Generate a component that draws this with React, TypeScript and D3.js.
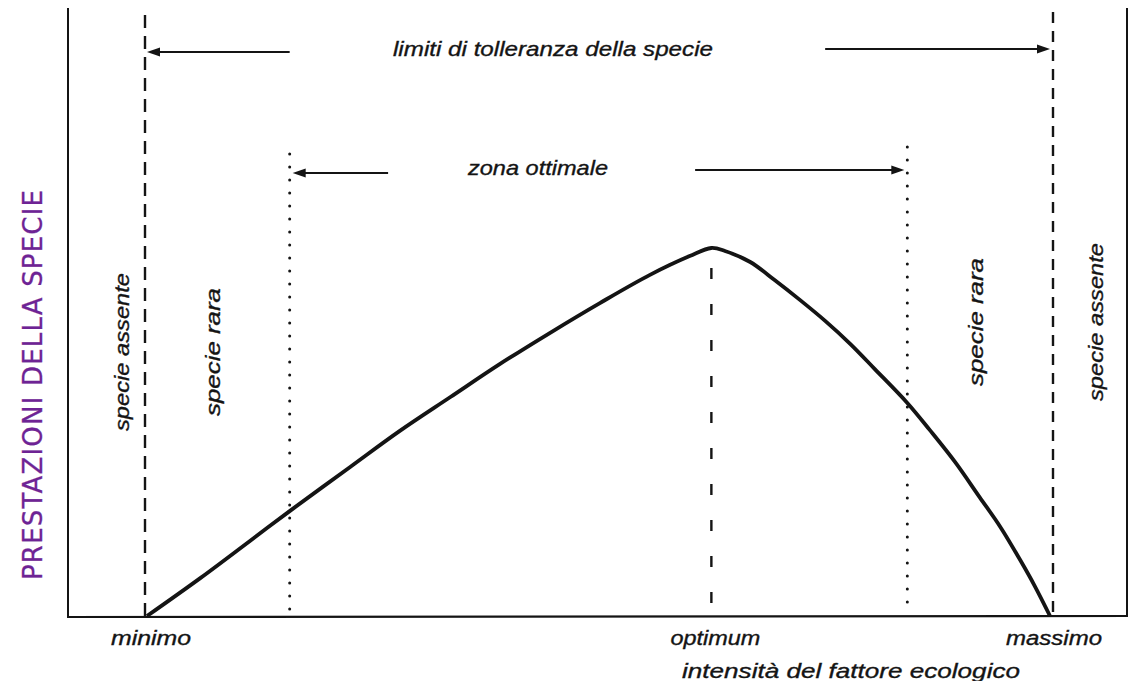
import React from "react";
import * as d3 from "d3";

// x: ecological factor intensity (0 = minimo, 100 = massimo), y: species performance (peak = 100)
const boundaryNames = ["minimo", "optimum", "massimo"];
const boundaryValues = [0, 62.5, 100];
const optimalZone = [15.8, 84.2];

const curveX = [
  0, 5.9, 11.4, 15.8, 22.5, 28.0, 33.6, 39.1, 44.6, 50.2, 55.7, 60.1, 62.5,
  64.0, 66.8, 69.5, 72.3, 75.1, 77.9, 80.6, 84.2, 86.7, 89.5, 92.2, 94.5, 96.7, 98.3, 100,
];
const curveY = [
  0, 10.3, 20.4, 28.5, 40.5, 50.3, 59.5, 68.5, 76.9, 85.1, 92.7, 97.8, 100,
  99.2, 96.2, 91.3, 85.9, 80.2, 73.9, 67.1, 57.9, 50.5, 41.8, 32.3, 24.2, 15.2, 8.2, 0,
];

const zoneLabels = ["specie assente", "specie rara", "specie rara", "specie assente"];
const zoneLabelX = [-2.8, 7.3, 91.7, 105];

const ink = "#141414";
const purple = "#6e2394";
const font = "'Liberation Sans', Arial, sans-serif";

export default function App() {
  const width = 1134;
  const height = 681;

  const x = d3.scaleLinear().domain([0, 100]).range([147, 1050]);
  const y = d3.scaleLinear().domain([0, 100]).range([616, 248]);

  const points: [number, number][] = curveX.map((v, i) => [x(v), y(curveY[i])]);
  const line = d3.line().curve(d3.curveCatmullRom.alpha(0.5))(points) || "";

  const axisLeft = 68;
  const axisRight = 1127;
  const baseY = 616;

  const arrowHead = (tipX: number, tipY: number, dir: number) =>
    `M${tipX},${tipY} L${tipX - dir * 13},${tipY - 4.5} L${tipX - dir * 13},${tipY + 4.5} Z`;

  const topY = 51;
  const zoneY = 172;

  const [minX, optX, maxX] = boundaryValues.map((v) => x(v));
  const [zl, zr] = optimalZone.map((v) => x(v));

  const textProps = {
    fontStyle: "italic",
    fill: ink,
    stroke: ink,
    strokeWidth: 0.35,
    lengthAdjust: "spacingAndGlyphs",
  } as const;

  const boundaryWidths = [80, 90, 96];

  return (
    <svg
      width={width}
      height={height}
      style={{ position: "absolute", left: 0, top: 0, background: "#fff" }}
      fontFamily={font}
    >
      {/* frame */}
      <line x1={axisLeft} y1={8} x2={axisLeft} y2={baseY + 2} stroke={ink} strokeWidth={2} />
      <line x1={axisRight} y1={8} x2={axisRight} y2={baseY} stroke={ink} strokeWidth={2} />
      <line x1={axisLeft - 1} y1={baseY + 1} x2={axisRight + 1} y2={baseY} stroke={ink} strokeWidth={2.2} />

      {/* tolerance limits */}
      <line x1={minX - 2} y1={15} x2={minX - 2} y2={baseY} stroke={ink} strokeWidth={2.4} strokeDasharray="13,8" />
      <line x1={maxX + 3} y1={12} x2={maxX + 3} y2={baseY} stroke={ink} strokeWidth={2.4} strokeDasharray="11,8" />
      <line x1={optX} y1={268} x2={optX} y2={baseY - 4} stroke={ink} strokeWidth={2.4} strokeDasharray="11,25" />

      {/* optimal zone */}
      {[zl, zr].map((v, i) => (
        <line
          key={i}
          x1={v}
          y1={i === 0 ? 154 : 147}
          x2={v}
          y2={baseY - 4}
          stroke={ink}
          strokeWidth={3}
          strokeLinecap="round"
          strokeDasharray="0,13"
        />
      ))}

      {/* arrows */}
      <line x1={x(15.8)} y1={topY + 1} x2={minX + 8} y2={topY + 1} stroke={ink} strokeWidth={2} />
      <path d={arrowHead(minX, topY + 1, -1)} fill={ink} />
      <line x1={x(75.1)} y1={topY - 2} x2={maxX - 8} y2={topY - 2} stroke={ink} strokeWidth={2} />
      <path d={arrowHead(maxX, topY - 2, 1)} fill={ink} />
      <text x={393} y={topY + 5} fontSize={21} textLength={320} {...textProps}>
        limiti di tolleranza della specie
      </text>

      <line x1={x(26.7)} y1={zoneY + 1} x2={zl + 10} y2={zoneY + 1} stroke={ink} strokeWidth={2} />
      <path d={arrowHead(zl + 3, zoneY + 1, -1)} fill={ink} />
      <line x1={x(60.7)} y1={zoneY - 2} x2={zr - 10} y2={zoneY - 2} stroke={ink} strokeWidth={2} />
      <path d={arrowHead(zr - 3, zoneY - 2, 1)} fill={ink} />
      <text x={468} y={zoneY + 3} fontSize={21} textLength={140} {...textProps}>
        zona ottimale
      </text>

      {/* performance curve */}
      <path d={line} fill="none" stroke={ink} strokeWidth={3.8} strokeLinejoin="round" />

      {/* zone labels */}
      {zoneLabels.map((t, i) => {
        const cx = x(zoneLabelX[i]);
        const cy = i < 2 ? 352 : 322;
        const len = t.length > 11 ? 158 : 128;
        return (
          <text
            key={i}
            transform={`translate(${cx},${cy}) rotate(-90)`}
            x={-len / 2}
            dominantBaseline="central"
            fontSize={20.5}
            textLength={len}
            {...textProps}
          >
            {t}
          </text>
        );
      })}

      {/* boundary labels */}
      {boundaryNames.map((t, i) => (
        <text
          key={t}
          x={x(boundaryValues[i]) + 4 - boundaryWidths[i] / 2}
          y={645}
          fontSize={20.5}
          textLength={boundaryWidths[i]}
          {...textProps}
        >
          {t}
        </text>
      ))}
      <text x={682} y={678} fontSize={21} textLength={338} {...textProps}>
        intensità del fattore ecologico
      </text>

      {/* handwritten y label */}
      <text
        transform="translate(33,385) rotate(-90)"
        x={-195}
        dominantBaseline="central"
        fontSize={26}
        textLength={390}
        lengthAdjust="spacing"
        fill={purple}
        stroke={purple}
        strokeWidth={0.3}
        fontFamily="'DejaVu Sans', sans-serif"
      >
        PRESTAZIONI DELLA SPECIE
      </text>
    </svg>
  );
}
